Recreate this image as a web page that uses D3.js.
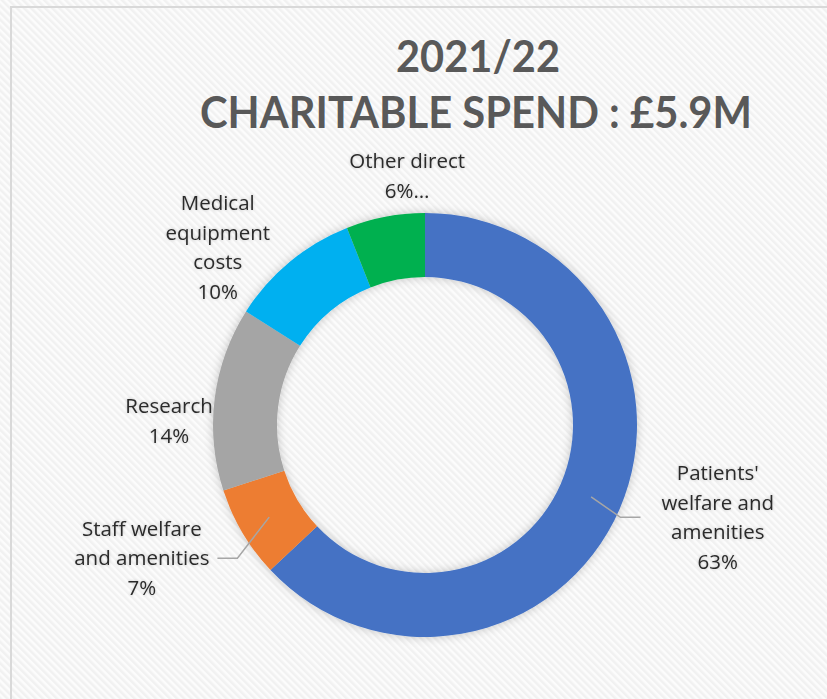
<!DOCTYPE html>
<html>
<head>
<meta charset="utf-8">
<script src="https://cdn.jsdelivr.net/npm/d3@7"></script>
<style>
  html, body { margin: 0; padding: 0; background: #fff; overflow: hidden; }
</style>
</head>
<body>
<div id="chart"></div>
<script>
// data
const categories = ["Patients' welfare and amenities", "Staff welfare and amenities", "Research", "Medical equipment costs", "Other direct"];
const values = [63, 7, 14, 10, 6];
const pctLabels = ["63%", "7%", "14%", "10%", "6%\u2026"];
const labelLines = [["Patients'", "welfare and", "amenities"], ["Staff welfare", "and amenities"], ["Research"], ["Medical", "equipment", "costs"], ["Other direct"]];
const colors = ["#4472C4", "#ED7D31", "#A5A5A5", "#00B0F0", "#00B050"];
const titleLines = ["2021/22", "CHARITABLE SPEND : £5.9M"];

// layout
const width = 827, height = 699;
const cx = 425, cy = 425;
const outerR = 212, innerR = 148;
// where excel put each label: [angle in degrees clockwise from top, distance from centre]
const labelSpots = [[107.5, 307], [244.8, 313], [270.9, 256], [310.6, 273], [355.9, 250]];
const hasLeader = [true, true, false, false, false];
const leaderPad = [21, 8, 0, 0, 0];
const lineH = 29.5;

const svg = d3.select("#chart")
    .append("svg")
    .attr("width", width)
    .attr("height", height);

const defs = svg.append("defs");

// faint diagonal stripes in the background
const pat = defs.append("pattern")
    .attr("id", "stripes")
    .attr("width", 5).attr("height", 5)
    .attr("patternUnits", "userSpaceOnUse")
    .attr("patternTransform", "rotate(-45)");
pat.append("rect").attr("width", 5).attr("height", 5).attr("fill", "#fcfcfc");
pat.append("rect").attr("width", 2.5).attr("height", 5).attr("fill", "#f1f1f1");

// soft shadow around the ring
const sh = defs.append("filter").attr("id", "ringShadow")
    .attr("x", "-20%").attr("y", "-20%").attr("width", "140%").attr("height", "140%");
sh.append("feGaussianBlur").attr("in", "SourceAlpha").attr("stdDeviation", 5).attr("result", "blur");
sh.append("feFlood").attr("flood-color", "#000").attr("flood-opacity", 0.22).attr("result", "col");
sh.append("feComposite").attr("in", "col").attr("in2", "blur").attr("operator", "in").attr("result", "shadow");
const m1 = sh.append("feMerge");
m1.append("feMergeNode").attr("in", "shadow");
m1.append("feMergeNode").attr("in", "SourceGraphic");

// light glow behind the label text
const tg = defs.append("filter").attr("id", "textGlow")
    .attr("x", "-20%").attr("y", "-40%").attr("width", "140%").attr("height", "180%");
tg.append("feGaussianBlur").attr("in", "SourceAlpha").attr("stdDeviation", 1.5).attr("result", "blur");
tg.append("feFlood").attr("flood-color", "#000").attr("flood-opacity", 0.2).attr("result", "col");
tg.append("feComposite").attr("in", "col").attr("in2", "blur").attr("operator", "in").attr("result", "shadow");
const m2 = tg.append("feMerge");
m2.append("feMergeNode").attr("in", "shadow");
m2.append("feMergeNode").attr("in", "SourceGraphic");

svg.append("rect")
    .attr("width", width).attr("height", height)
    .attr("fill", "url(#stripes)");

// chart area border (runs off the right and bottom)
svg.append("rect")
    .attr("x", 11).attr("y", 7)
    .attr("width", width + 20).attr("height", height + 20)
    .attr("fill", "none")
    .attr("stroke", "#d9d9d9")
    .attr("stroke-width", 2);

// title
const title = svg.append("g")
    .attr("font-family", "Lato, 'Open Sans', sans-serif")
    .attr("font-weight", "bold")
    .attr("fill", "#595959")
    .attr("text-anchor", "middle");
title.append("text")
    .attr("x", 478).attr("y", 72)
    .attr("font-size", 44)
    .attr("textLength", 164).attr("lengthAdjust", "spacingAndGlyphs")
    .text(titleLines[0]);
title.append("text")
    .attr("x", 476).attr("y", 128)
    .attr("font-size", 44)
    .attr("textLength", 552).attr("lengthAdjust", "spacingAndGlyphs")
    .text(titleLines[1]);

// donut
const pie = d3.pie().sort(null).value(d => d).startAngle(0).endAngle(2 * Math.PI);
const arcs = pie(values);
const arc = d3.arc().innerRadius(innerR).outerRadius(outerR);
const color = d3.scaleOrdinal().domain(categories).range(colors);

const donut = svg.append("g")
    .attr("transform", `translate(${cx}, ${cy})`);

donut.append("g")
    .attr("filter", "url(#ringShadow)")
    .selectAll("path")
    .data(arcs)
    .enter()
    .append("path")
    .attr("d", arc)
    .attr("fill", (d, i) => color(categories[i]));

// labels
const labels = donut.append("g")
    .attr("font-family", "'Open Sans', Lato, sans-serif")
    .attr("font-size", 20.5)
    .attr("fill", "#2b2b2b")
    .attr("text-anchor", "middle");

const midArc = d3.arc().innerRadius((innerR + outerR) / 2 + 1).outerRadius((innerR + outerR) / 2 + 1);

arcs.forEach((d, i) => {
    const a = labelSpots[i][0] * Math.PI / 180;
    const r = labelSpots[i][1];
    const lx = r * Math.sin(a), ly = -r * Math.cos(a);
    const lines = labelLines[i].concat([pctLabels[i]]);
    const top = ly - (lines.length - 1) * lineH / 2;

    const t = labels.append("text")
        .attr("filter", "url(#textGlow)");
    lines.forEach((s, j) => {
        t.append("tspan")
            .attr("x", lx)
            .attr("y", top + j * lineH)
            .attr("dy", "0.35em")
            .text(s);
    });

    if (hasLeader[i]) {
        const w = d3.max(t.selectAll("tspan").nodes(), n => n.getComputedTextLength());
        const [sx, sy] = midArc.centroid(d);
        const side = lx > 0 ? -1 : 1;
        const ex = lx + side * (w / 2 + leaderPad[i]);
        const bx = ex + side * 20;
        labels.append("path")
            .attr("d", d3.line()([[sx, sy], [bx, ly], [ex, ly]]))
            .attr("fill", "none")
            .attr("stroke", "#a6a6a6")
            .attr("stroke-width", 1.5);
    }
});
</script>
</body>
</html>
